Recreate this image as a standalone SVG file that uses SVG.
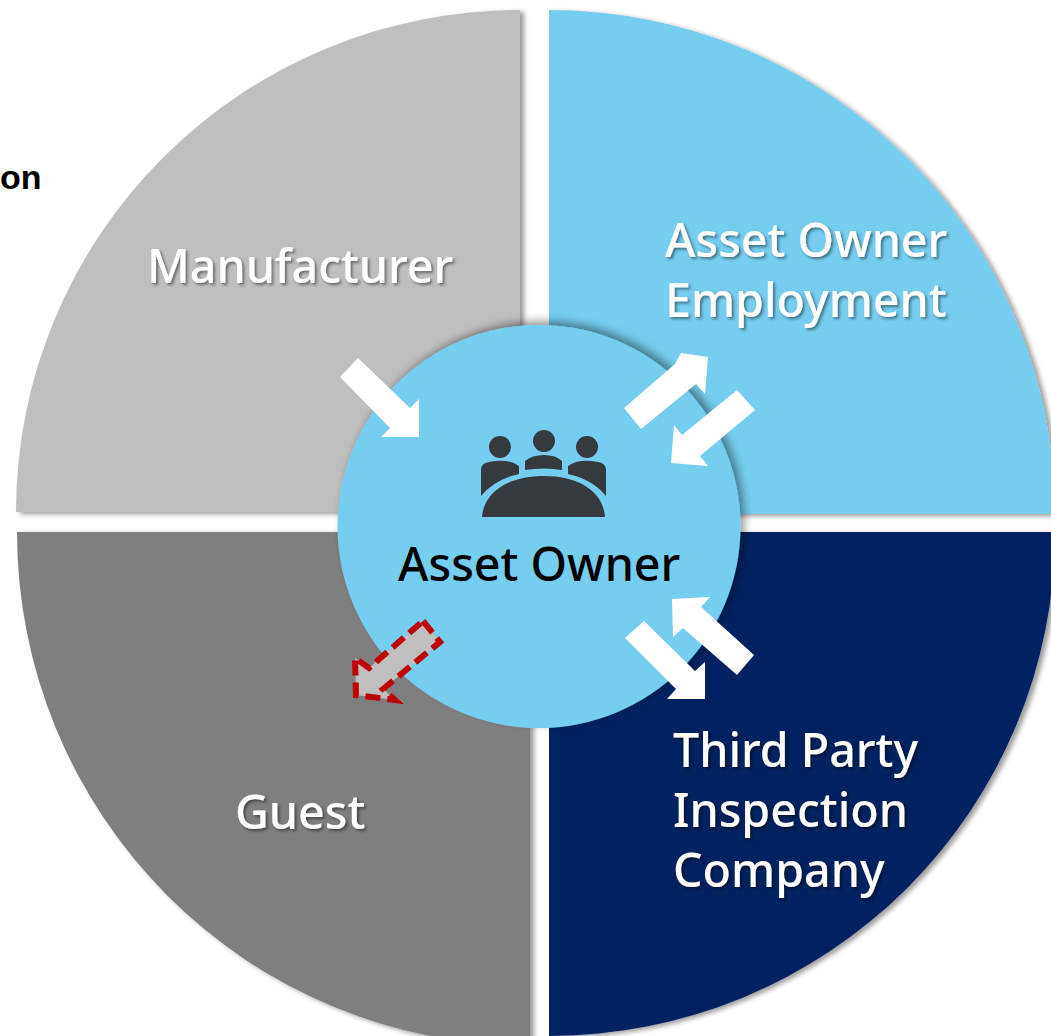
<svg xmlns="http://www.w3.org/2000/svg" width="1051" height="1036" viewBox="0 0 1051 1036">
<style>
.lbl{font-family:"Noto Sans","Open Sans",sans-serif;font-size:46.6px;font-weight:500;fill:#fff;filter:url(#ts)}
.arrow{fill:#fff;stroke:none}
.ic{fill:#343a3e}
</style>
<defs>
<filter id="qs" x="-5%" y="-5%" width="110%" height="110%"><feDropShadow dx="4" dy="2" stdDeviation="2.5" flood-color="#000" flood-opacity="0.4"/></filter>
<filter id="cs" x="-10%" y="-10%" width="120%" height="120%"><feDropShadow dx="4" dy="-4" stdDeviation="4" flood-color="#000" flood-opacity="0.4"/></filter>
<filter id="ts" x="-5%" y="-15%" width="110%" height="130%"><feDropShadow dx="2" dy="2" stdDeviation="1.5" flood-color="#000" flood-opacity="0.45"/></filter>
</defs>
<rect width="1051" height="1036" fill="#fff"/>
<text x="0" y="189" font-family="Liberation Sans, Arial, sans-serif" font-weight="700" font-size="34" fill="#000">on</text>
<g id="node-guest"><path d="M530 532V1046A513 514 0 0 1 17 532Z" fill="#7f7f7f" filter="url(#qs)"/><text class="lbl" x="235" y="829">Guest</text></g>
<g id="node-manufacturer"><path d="M520 512V10A504 502 0 0 0 16 512Z" fill="#bfbfbf" filter="url(#qs)"/><text class="lbl" x="147" y="283">Manufacturer</text></g>
<g id="node-employment"><path d="M549 514V10A506 504 0 0 1 1055 514Z" fill="#75cdf0" filter="url(#qs)"/><text class="lbl" x="665" y="257">Asset Owner</text><text class="lbl" x="665" y="317">Employment</text></g>
<g id="node-inspection"><path d="M549 532H1055A506 504 0 0 1 549 1036Z" fill="#002060" filter="url(#qs)"/><text class="lbl" x="673" y="767">Third Party</text><text class="lbl" x="673" y="827">Inspection</text><text class="lbl" x="673" y="887">Company</text></g>
<g id="node-owner">
<circle cx="539" cy="526.5" r="201.5" fill="#75cdf0" filter="url(#cs)"/>
<g id="icon" class="ic">
<circle cx="500" cy="447" r="11"/><circle cx="544" cy="441" r="11"/><circle cx="587" cy="447" r="11"/>
<path d="M482 517C484 491 510 476 544 476C578 476 603 491 605 517Z"/>
<path d="M481 496V470Q481 463 489 462Q508 458 519 466V474Q495 479 481 496Z"/>
<path d="M606 496V470Q606 463 598 462Q579 458 568 466V474Q592 479 606 496Z"/>
<path d="M525 470V461Q532 455 544 455Q556 455 562 461V470Q544 467 525 470Z"/>
</g>
<text x="398" y="581" font-family="Noto Sans, Open Sans, sans-serif" font-size="46.6" font-weight="500" fill="#000">Asset Owner</text>
</g>
<g id="connectors">
<polygon class="arrow" points="340,377 358,358 410,408 419,399 419,437 381,437 390,428"/>
<polygon class="arrow" points="624,408 641,429 696,384 705,394 708,357 681,353 675,364"/>
<polygon class="arrow" points="737,390 755,410 700,456 708,466 671,463 674,425 682,435"/>
<polygon class="arrow" points="754,655 737,675 683,628 673,637 672,599 710,597 701,607"/>
<polygon class="arrow" points="644,621 625,638 676,689 667,699 705,699 705,662 695,671"/>
<polygon points="423,621 440,642 383,689 395,700 356,695 355,658 369,668" fill="#bfbfbf" stroke="#c00000" stroke-width="6" stroke-dasharray="15 7"/>
</g>
</svg>
